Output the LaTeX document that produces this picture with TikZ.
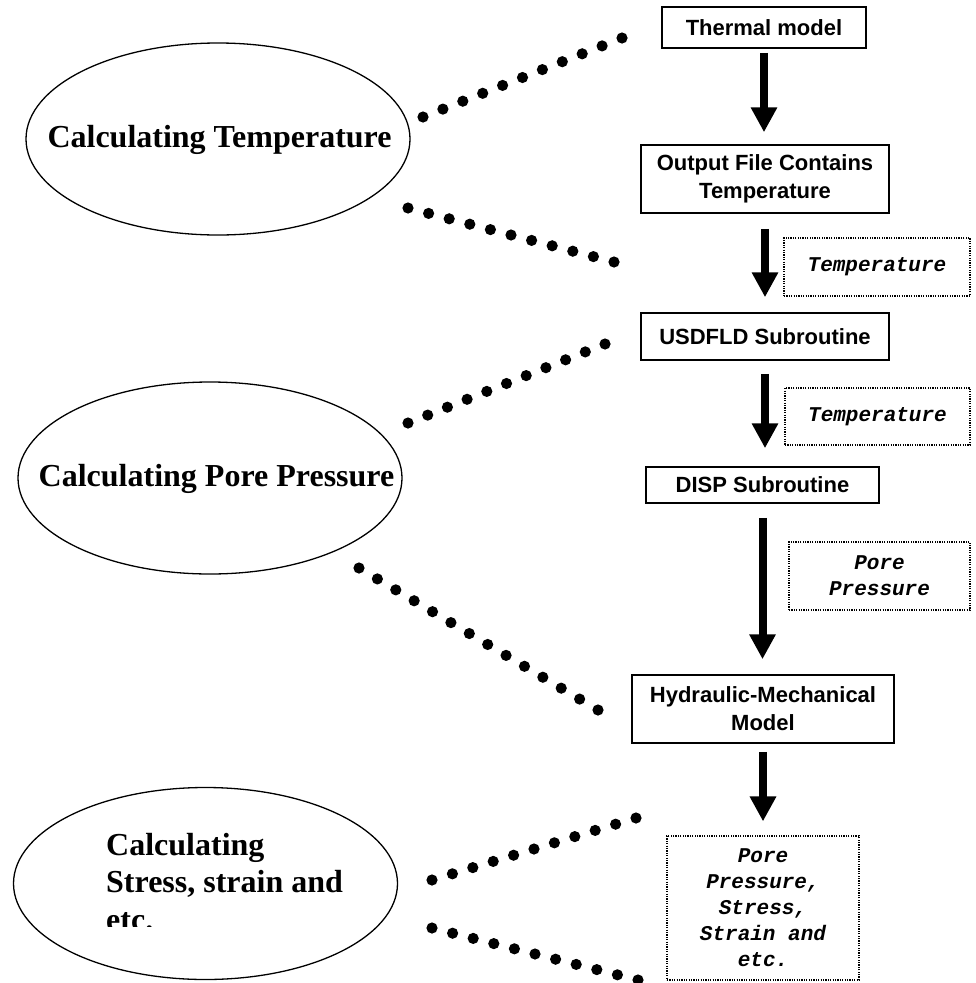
\documentclass[tikz,border=0pt]{standalone}
\usepackage{fontspec}
\setmainfont{Liberation Serif}
\newfontfamily\boxfont{Liberation Sans}
\newfontfamily\codefont{Liberation Mono}
\usetikzlibrary{shapes.geometric,arrows.meta,calc}

\tikzset{
  procbox/.style={draw, line width=1.5pt, inner sep=0pt, align=center,
    font=\boxfont\bfseries\fontsize{22}{28}\selectfont},
  databox/.style={draw, line width=1.2pt, dash pattern=on 1.2pt off 1.2pt,
    inner sep=0pt, align=center,
    font=\codefont\bfseries\itshape\fontsize{21}{26}\selectfont},
  stage/.style={draw, ellipse, line width=1.3pt, inner sep=0pt,
    minimum width=384pt, minimum height=192pt},
  stagetext/.style={inner sep=0pt, font=\bfseries\fontsize{32}{37}\selectfont},
  flow/.style={line width=8pt, -{Triangle[length=25pt,width=25pt]}}
}

% a row of round dots between two named points
\newcommand\dotrow[3]{%
  \foreach \k in {0,...,#3} \fill ($(#1)!\k/#3!(#2)$) circle (5.6pt);}

\begin{document}
\begin{tikzpicture}[x=1pt,y=-1pt]
\useasboundingbox (0,0) rectangle (976,983);

% processing chain
\node[procbox, minimum width=204pt, minimum height=41pt] (thermal) at (764,27.5) {Thermal model};
\node[procbox, minimum width=248pt, minimum height=68pt] (output) at (765,179) {Output File Contains\\Temperature};
\node[procbox, minimum width=248pt, minimum height=47pt] (usdfld) at (765,336.5) {USDFLD Subroutine};
\node[procbox, minimum width=233pt, minimum height=36pt] (disp) at (762.5,485) {DISP Subroutine};
\node[procbox, minimum width=262pt, minimum height=68pt] (hydro) at (763,709) {Hydraulic-Mechanical\\Model};

% transferred quantities
\node[databox, minimum width=186pt, minimum height=58pt] (tempA) at (877,267) {Temperature};
\node[databox, minimum width=185pt, minimum height=57pt] (tempB) at (877.5,416.5) {Temperature};
\node[databox, minimum width=181pt, minimum height=68pt] (pore) at (879.5,576) {Pore\\Pressure};
\node[databox, minimum width=192pt, minimum height=144pt] (result) at (763,908) {Pore\\Pressure,\\Stress,\\Strain and\\etc.};

% arrows between stages
\draw[flow, shorten <=4pt, shorten >=12pt] (thermal.south) -- (thermal.south |- output.north);
\draw[flow, shorten <=15pt, shorten >=15pt] (output.south) -- (output.south |- usdfld.north);
\draw[flow, shorten <=13pt, shorten >=18pt] (usdfld.south) -- (usdfld.south |- disp.north);
\draw[flow, shorten <=14pt, shorten >=15pt] (disp.south) -- (disp.south |- hydro.north);
\draw[flow, shorten <=8pt, shorten >=14pt] (hydro.south) -- (hydro.south |- result.north);

% calculation stages
\node[stage] (e1) at (218,139) {};
\node[stage] (e2) at (210,478) {};
\node[stage] (e3) at (205.5,883.5) {};

\node[stagetext, anchor=base] (t1) at (219.5,147) {Calculating Temperature};
\node[stagetext, anchor=base] (t2) at (216.5,486) {Calculating Pore Pressure};
\node[stagetext, anchor=base west] (t3a) at (106,855) {Calculating};
\node[stagetext, anchor=base west] (t3b) at (106,892) {Stress, strain and};
\begin{scope}
  \clip (90,900) rectangle (300,926);
  \node[stagetext, anchor=base west] (t3c) at (106,930) {etc.};
\end{scope}

% dotted brackets
\coordinate (a1) at (423,117);  \coordinate (b1) at (622,38);
\coordinate (a2) at (408,208);  \coordinate (b2) at (614,262);
\coordinate (a3) at (408,423);  \coordinate (b3) at (605,344);
\coordinate (a4) at (359,568);  \coordinate (b4) at (598,710);
\coordinate (a5) at (432,880);  \coordinate (b5) at (636,818);
\coordinate (a6) at (432,928);  \coordinate (b6) at (638,980);
\dotrow{a1}{b1}{10}
\dotrow{a2}{b2}{10}
\dotrow{a3}{b3}{10}
\dotrow{a4}{b4}{13}
\dotrow{a5}{b5}{10}
\dotrow{a6}{b6}{10}
\end{tikzpicture}
\end{document}
